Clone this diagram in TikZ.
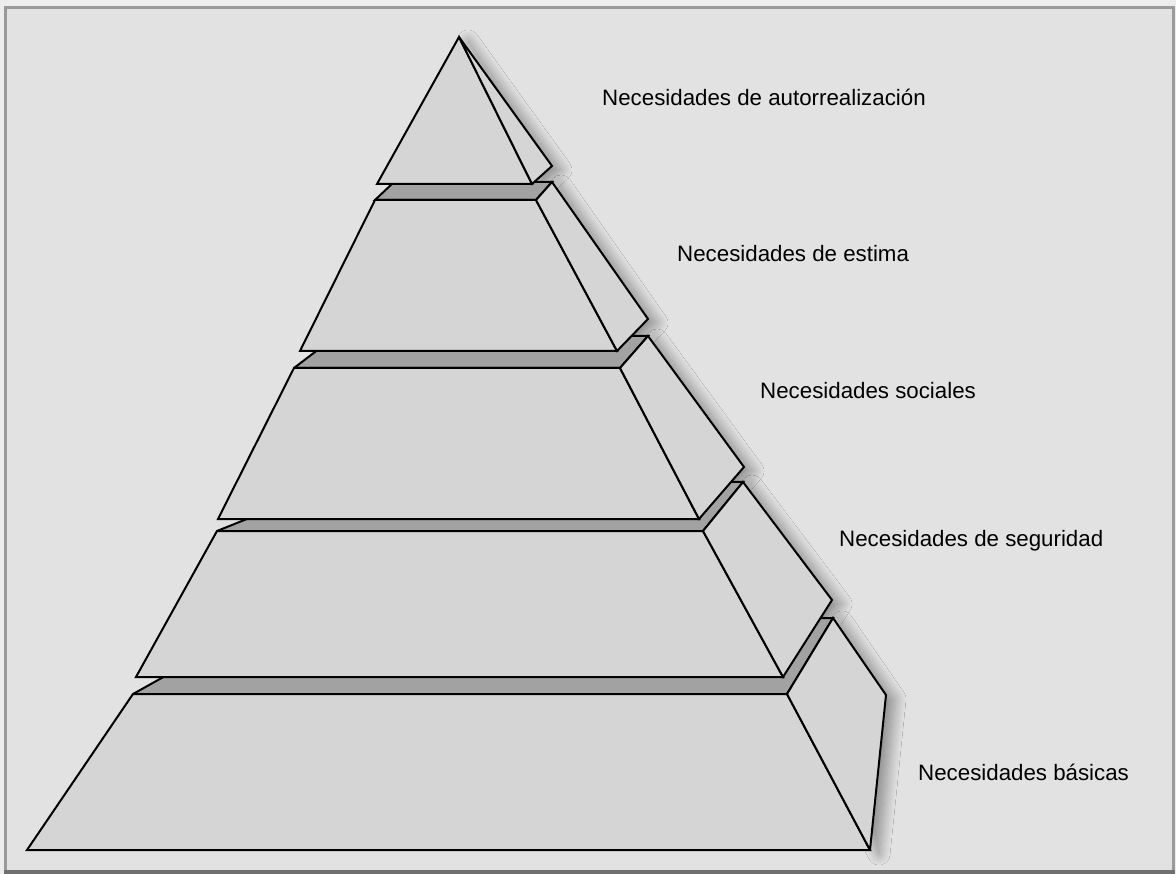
\documentclass[tikz,border=0pt]{standalone}
\usepackage{fontspec}
\setmainfont{Liberation Sans}
\usetikzlibrary{shadows.blur}
\definecolor{pyrbg}{HTML}{E2E2E2}
\definecolor{pyrface}{HTML}{D5D5D5}
\definecolor{pyrledge}{HTML}{A2A2A2}
\definecolor{pyrframe}{HTML}{9A9A9A}
\definecolor{pyrframedk}{HTML}{707070}
\tikzset{Mface/.style={fill=pyrface,draw=black,line width=2pt,line join=miter,miter limit=3},
         Mledge/.style={fill=pyrledge,draw=black,line width=2pt,line join=miter,miter limit=3},
         Mshade/.style={blur shadow={shadow xshift=9pt,shadow yshift=-4pt,shadow blur radius=11pt,shadow blur steps=24,shadow opacity=38}},
         Mlab/.style={anchor=base west,inner sep=0pt,font=\fontsize{22.3}{27}\selectfont}}

\begin{document}
\begin{tikzpicture}[x=1pt,y=-1pt]
  \useasboundingbox (0,0) rectangle (1176,874);
  % frame
  \fill[white!93!black] (0,0) rectangle (1176,874);
  \draw[pyrframe,line width=2.8pt,fill=pyrbg] (5.3,7.3) rectangle (1173.5,872);
  % top block
  \coordinate (apex) at (459,37);  \coordinate (tl1) at (377,184);
  \coordinate (tr1) at (532,184);  \coordinate (sv1) at (552,166);
  % layer 2
  \coordinate (fl2) at (375,200);  \coordinate (fr2) at (536,200);
  \coordinate (bl2) at (394,182);  \coordinate (br2) at (552,182);
  \coordinate (sv2) at (648,319);  \coordinate (bbr2) at (617,351);
  \coordinate (bbl2) at (300,351);
  % layer 3
  \coordinate (fl3) at (294,368);  \coordinate (fr3) at (620,368);
  \coordinate (bl3) at (336,336);  \coordinate (br3) at (648,336);
  \coordinate (sv3) at (744,467);  \coordinate (bbr3) at (699,519);
  \coordinate (bbl3) at (218,519);
  % layer 4
  \coordinate (fl4) at (217,531);  \coordinate (fr4) at (703,531);
  \coordinate (bl4) at (339,482);  \coordinate (br4) at (743,482);
  \coordinate (sv4) at (832,600);  \coordinate (bbr4) at (783,677);
  \coordinate (bbl4) at (136,677);
  % layer 5
  \coordinate (fl5) at (133,694);  \coordinate (fr5) at (787,694);
  \coordinate (bl5) at (269,618);  \coordinate (br5) at (833,618);
  \coordinate (sv5) at (886,695);  \coordinate (bbr5) at (870,850);
  \coordinate (bbl5) at (27,850);
  % shadows first
  \foreach \i in {5,4,3,2}
    \path[Mshade] (fr\i) -- (br\i) -- (sv\i) -- (bbr\i) -- cycle;
  \path[Mshade] (apex) -- (sv1) -- (tr1) -- cycle;
  % blocks, bottom to top
  \foreach \i in {5,4,3,2} {
    \draw[Mledge] (fl\i) -- (bl\i) -- (br\i) -- (fr\i) -- cycle;
    \draw[Mface] (fl\i) -- (fr\i) -- (bbr\i) -- (bbl\i) -- cycle;
    \draw[Mface] (fr\i) -- (br\i) -- (sv\i) -- (bbr\i) -- cycle;
  }
  \draw[Mface] (apex) -- (tr1) -- (tl1) -- cycle;
  \draw[Mface] (apex) -- (sv1) -- (tr1) -- cycle;
  % labels
  \node[Mlab] (labauto) at (602,106) {Necesidades de autorrealización};
  \node[Mlab] (labestima) at (677,262) {Necesidades de estima};
  \node[Mlab] (labsocial) at (760,399) {Necesidades sociales};
  \node[Mlab] (labsegur) at (839,546) {Necesidades de seguridad};
  \node[Mlab] (labbasic) at (918,780) {Necesidades básicas};
  % darker bottom edge of the frame, over the shadow
  \draw[pyrframedk,line width=4pt] (3.9,872) -- (1174.9,872);
\end{tikzpicture}
\end{document}
